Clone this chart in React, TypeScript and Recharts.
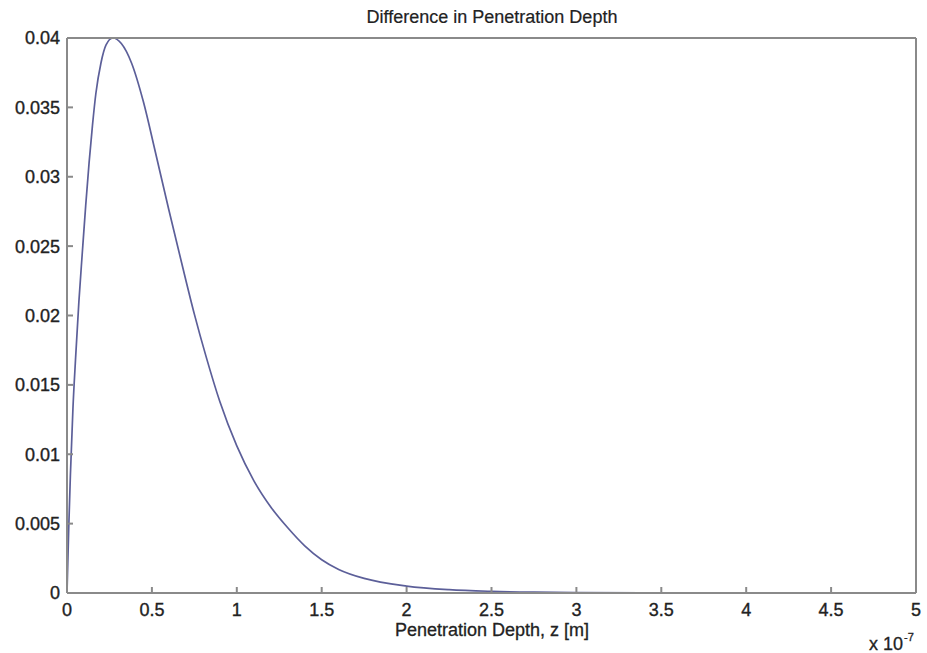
import { LineChart, Line, XAxis, YAxis } from "recharts";

// depth in units of 1e-7 m
const depth = [
  0, 0.01, 0.02, 0.035, 0.05, 0.07, 0.09, 0.11, 0.13, 0.15, 0.17, 0.2, 0.23, 0.27, 0.32, 0.38,
  0.45, 0.52, 0.6, 0.675, 0.75, 0.82, 0.9, 1.0, 1.1, 1.2, 1.3, 1.4, 1.5, 1.6, 1.75, 2.0, 2.25,
  2.5, 2.75, 3.0, 3.5, 4.0, 4.5, 5.0,
];

const difference = [
  0, 0.0046, 0.0085, 0.0133, 0.0168, 0.021, 0.0245, 0.0279, 0.031, 0.0337, 0.036, 0.0382, 0.0395,
  0.04, 0.0396, 0.0382, 0.0354, 0.0318, 0.0276, 0.0238, 0.0201, 0.017, 0.0138, 0.0106, 0.0081,
  0.0062, 0.0047, 0.0034, 0.0024, 0.0017, 0.00105, 0.0005, 0.00024, 0.00012, 0.00006, 0.00003,
  0.00001, 0, 0, 0,
];

const xTicks = [0, 0.5, 1, 1.5, 2, 2.5, 3, 3.5, 4, 4.5, 5];
const yTicks = [0, 0.005, 0.01, 0.015, 0.02, 0.025, 0.03, 0.035, 0.04];

const data = depth.map((z, i) => ({ z, diff: difference[i] }));

const frame = "#8a8a8a";
const font = "'Liberation Sans', Arial, sans-serif";
const tickStyle = { fill: "#222", fontSize: 18, fontFamily: font, stroke: "#222", strokeWidth: 0.35 };
const textBox = {
  position: "absolute" as const,
  fontFamily: font,
  fontSize: 18,
  color: "#222",
  lineHeight: "20px",
  whiteSpace: "nowrap" as const,
};

export default function App() {
  return (
    <div style={{ position: "absolute", left: 0, top: 0, width: 927, height: 653, background: "#fff" }}>
      <LineChart width={927} height={653} data={data} margin={{ top: 37, right: 10, bottom: 0, left: 7 }}>
        <XAxis
          dataKey="z"
          type="number"
          domain={[0, 5]}
          ticks={xTicks}
          height={60}
          stroke={frame}
          strokeWidth={2}
          tickSize={-6}
          tickMargin={16}
          tick={tickStyle}
        />
        <XAxis
          xAxisId="top"
          orientation="top"
          type="number"
          domain={[0, 5]}
          ticks={xTicks}
          height={1}
          stroke={frame}
          strokeWidth={2}
          tickSize={-6}
          tick={false}
        />
        <YAxis
          type="number"
          domain={[0, 0.04]}
          ticks={yTicks}
          width={60}
          stroke={frame}
          strokeWidth={2}
          tickSize={-6}
          tickMargin={13}
          tick={tickStyle}
        />
        <YAxis
          yAxisId="right"
          orientation="right"
          type="number"
          domain={[0, 0.04]}
          ticks={yTicks}
          width={1}
          stroke={frame}
          strokeWidth={2}
          tickSize={-6}
          tick={false}
        />
        <Line
          type="monotone"
          dataKey="diff"
          stroke="#5c5f99"
          strokeWidth={1.7}
          dot={false}
          isAnimationActive={false}
        />
      </LineChart>
      <div style={{ ...textBox, left: 0, width: 984, top: 7, textAlign: "center", WebkitTextStroke: "0.2px #222" }}>
        Difference in Penetration Depth
      </div>
      <div style={{ ...textBox, left: 0, width: 984, top: 620, textAlign: "center", WebkitTextStroke: "0.3px #222" }}>
        Penetration Depth, z [m]
      </div>
      <div style={{ ...textBox, left: 869, top: 634, WebkitTextStroke: "0.3px #222" }}>
        x 10<span style={{ fontSize: 11, position: "relative", top: -9, marginLeft: 1 }}>-7</span>
      </div>
    </div>
  );
}
